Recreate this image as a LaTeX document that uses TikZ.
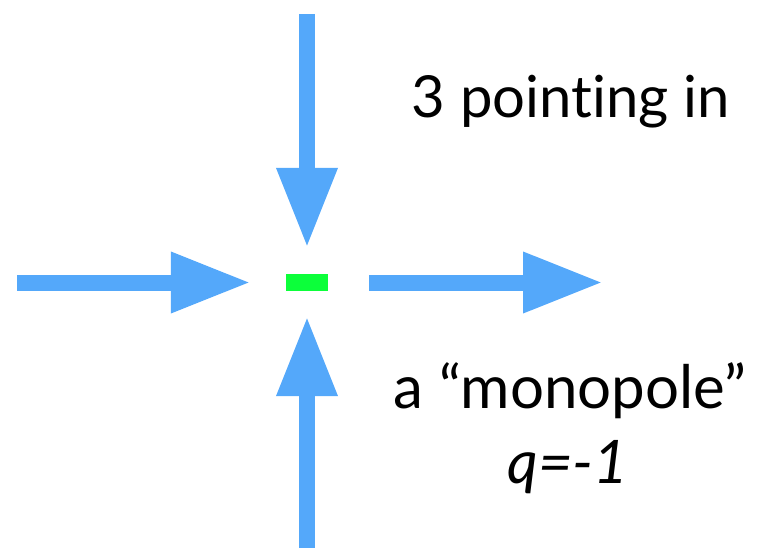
\documentclass[tikz,border=0pt]{standalone}
\usepackage{fontspec}
\setmainfont[Ligatures=NoCommon]{Lato}
\usepackage{tikz}
\usetikzlibrary{arrows.meta,positioning}
\definecolor{fieldblue}{RGB}{84,168,250}
\definecolor{chargegreen}{RGB}{12,255,58}
\tikzset{
  fieldarrow/.style={
    draw=fieldblue,
    line width=16pt,
    -{Triangle[length=80pt,width=57pt]}
  },
  chargedot/.style={
    fill=chargegreen,
    inner sep=0pt,
    minimum width=42pt,
    minimum height=17pt
  },
  fieldlabel/.style={
    anchor=base,
    inner sep=0pt,
    font=\fontsize{58}{66}\selectfont
  }
}

\begin{document}
\begin{tikzpicture}[x=1pt,y=-1pt]
    \useasboundingbox (0,0) rectangle (757,548);

    \node[chargedot] (charge) at (307,282.5) {};

    \coordinate (west) at (17,282.5);
    \coordinate (east) at (603,282.5);
    \coordinate (north) at (307,14);
    \coordinate (south) at (307,548);

    \draw[fieldarrow, shorten >=35pt] (west) -- (charge.west);
    \draw[fieldarrow, shorten >=26pt] (north) -- (charge.north);
    \draw[fieldarrow, shorten >=25pt] (south) -- (charge.south);
    \draw[fieldarrow, shorten <=41pt] (charge.east) -- (east);

    \node[fieldlabel] (count) at (571,118) {3 pointing in};
    \node[fieldlabel, font=\fontsize{60}{70}\selectfont] (name) at (570,408) {a “monopole”};
    \node[fieldlabel, font=\fontsize{60}{70}\selectfont\itshape] (charge value) at (568,483) {q=-1};
  \end{tikzpicture}
\end{document}
